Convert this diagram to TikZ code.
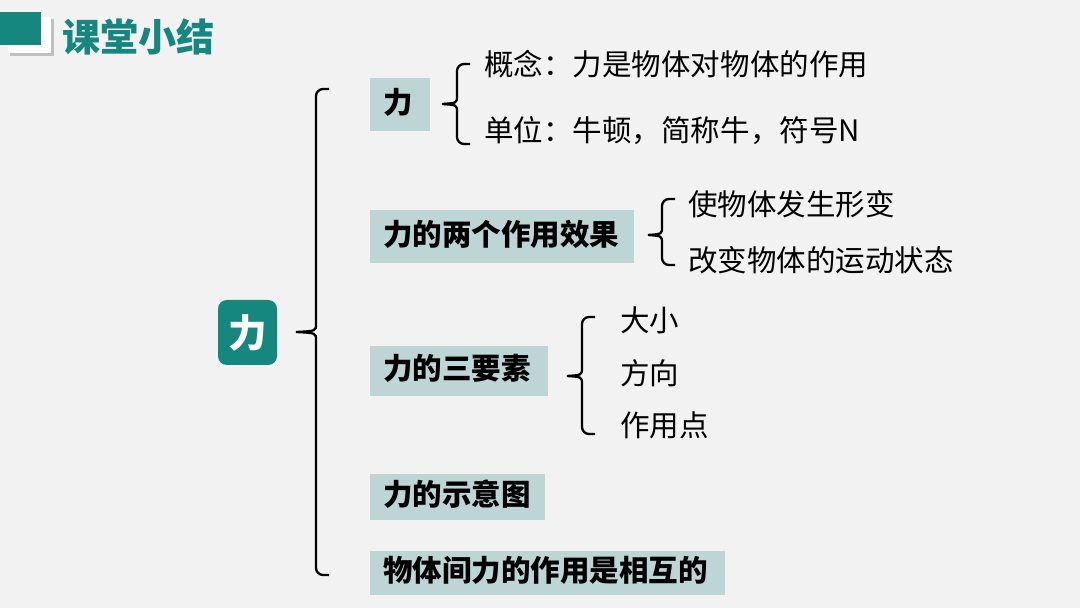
\documentclass[tikz,border=0pt]{standalone}
\usepackage{fontspec}
\setmainfont{Noto Sans CJK SC}
\usetikzlibrary{positioning}
\definecolor{teal}{HTML}{16877F}
\definecolor{boxfill}{HTML}{BDD5D5}
\definecolor{bgcol}{HTML}{F2F2F2}
\tikzset{
  topicbox/.style={fill=boxfill,inner xsep=0.26cm,inner ysep=0pt,align=left,font=\fontsize{16.8}{18}\selectfont\bfseries,anchor=west,text height=12pt,text depth=2pt},
  leaftext/.style={inner sep=0pt,anchor=west,font=\fontsize{16.8}{18}\selectfont},
  brace/.style={line width=1.3pt,rounded corners=4pt}
}
\newcommand{\bracket}[5]{% x of vertical, top y, bottom y, tip y, tip x
  \draw[brace] (#1+13,#2) -- (#1,#2) -- (#1,#4-8);
  \draw[line width=1.3pt] (#1,#4-8) .. controls (#1,#4-1) .. (#5,#4) .. controls (#1,#4+1) .. (#1,#4+8);
  \draw[brace] (#1,#4+8) -- (#1,#3) -- (#1+13,#3);}
\begin{document}
\begin{tikzpicture}[x=0.02cm,y=-0.02cm]
\fill[bgcol] (0,0) rectangle (1080,608);
\useasboundingbox (0,0) rectangle (1080,608);
% title
\fill[black!25] (10,19) rectangle (54,56);
\fill[white] (8,17) rectangle (51,53);
\fill[teal] (0,12) rectangle (41,45);
\node[anchor=west,inner sep=0pt,text=teal,font=\fontsize{21.7}{24}\selectfont\bfseries] (title) at (62,37) {课堂小结};
% root
\node[fill=teal,rounded corners=5pt,minimum width=59*0.02cm,minimum height=65*0.02cm,text=white,font=\fontsize{22}{24}\selectfont\bfseries] (root) at (247.5,332.5) {力};
% main topics
\node[topicbox,text width=34*0.02cm,minimum height=53*0.02cm] (li) at (370,104.5) {力};
\node[topicbox,text width=238*0.02cm,minimum height=53*0.02cm] (effect) at (370,236.5) {力的两个作用效果};
\node[topicbox,text width=152*0.02cm,minimum height=50*0.02cm] (three) at (370,371) {力的三要素};
\node[topicbox,text width=149*0.02cm,minimum height=46*0.02cm] (sketch) at (370,497) {力的示意图};
\node[topicbox,text width=329*0.02cm,minimum height=44*0.02cm] (mutual) at (370,573) {物体间力的作用是相互的};
% leaves
\node[leaftext] (concept) at (484,64) {概念：力是物体对物体的作用};
\node[leaftext] (unit) at (484,131) {单位：牛顿，简称牛，符号N};
\node[leaftext] (deform) at (688,204) {使物体发生形变};
\node[leaftext] (motion) at (688,260) {改变物体的运动状态};
\node[leaftext] (size) at (620,320) {大小};
\node[leaftext] (dir) at (620,373) {方向};
\node[leaftext] (point) at (620,425) {作用点};
% braces
\bracket{316}{89}{575}{332}{296}
\bracket{457}{64}{144}{104}{442}
\bracket{662}{199}{265}{235}{648}
\bracket{582}{317}{434}{376}{567}
\end{tikzpicture}
\end{document}
